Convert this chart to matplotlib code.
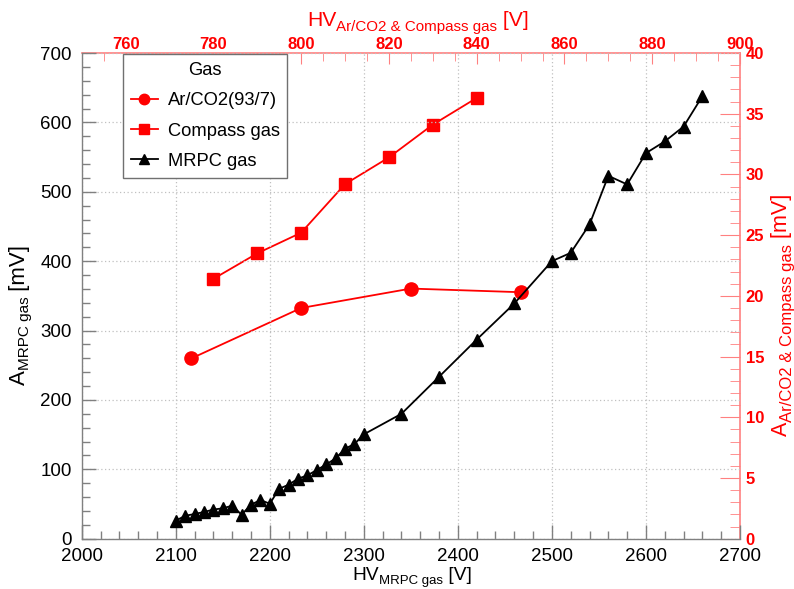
import matplotlib
matplotlib.use("Agg")
import matplotlib.pyplot as plt
from matplotlib.ticker import MultipleLocator
from matplotlib.transforms import IdentityTransform

plt.rcParams['font.family'] = ['Liberation Sans', 'DejaVu Sans']

# MRPC gas scan (bottom / left axes)
hv_mrpc = [2100, 2110, 2120, 2130, 2140, 2150, 2160, 2170, 2180, 2190,
           2200, 2210, 2220, 2230, 2240, 2250, 2260, 2270, 2280, 2290,
           2300, 2340, 2380, 2420, 2460, 2500, 2520, 2540, 2560, 2580,
           2600, 2620, 2640, 2660]
amp_mrpc = [26, 33, 35.6, 38.5, 42, 43.8, 47.6, 34.6, 49, 55.8,
            50.4, 72, 77.8, 86.5, 91.3, 99, 107, 115.8, 129.7, 136.5,
            150.4, 180, 233.4, 287, 339, 400, 412, 453, 523, 510.6,
            555.7, 572.6, 594, 637.8]

# Ar/CO2 (93/7) and Compass gas scans (top / right axes)
hv_arco2 = [775, 800, 825, 850]
amp_arco2 = [14.85, 19.0, 20.6, 20.3]

hv_compass = [780, 790, 800, 810, 820, 830, 840]
amp_compass = [21.4, 23.5, 25.2, 29.2, 31.4, 34.1, 36.3]

legend_title = "Gas"
series_labels = ["Ar/CO2(93/7)", "Compass gas", "MRPC gas"]

RED = '#ff0000'
PINK = '#ff8080'
FRAME = '#808080'

W_PX, H_PX = 794, 589
fig = plt.figure(figsize=(W_PX / 100, H_PX / 100), dpi=100)
rect = [0.1029, 0.0854, 0.8291, 0.8246]

ax = fig.add_axes(rect)
ax2 = fig.add_axes(rect, label='secondary')
ax.set_zorder(2)
ax.patch.set_visible(False)
ax2.set_zorder(1)

# primary axes: MRPC gas
ax.set_xlim(2000, 2700)
ax.set_ylim(0, 700)
ax.xaxis.set_major_locator(MultipleLocator(100))
ax.xaxis.set_minor_locator(MultipleLocator(20))
ax.yaxis.set_major_locator(MultipleLocator(100))
ax.yaxis.set_minor_locator(MultipleLocator(20))
ax.tick_params(which='both', direction='in', color=FRAME, labelcolor='black',
               top=False, right=False, labelsize=13.5)
ax.tick_params(which='major', length=10, width=1)
ax.tick_params(which='minor', length=5.5, width=1)
ax.tick_params(axis='x', pad=6.5)
ax.tick_params(axis='y', pad=7)
for s in ('top', 'right'):
    ax.spines[s].set_visible(False)
for s in ('left', 'bottom'):
    ax.spines[s].set_color(FRAME)
    ax.spines[s].set_linewidth(1)
ax.grid(True, which='major', color='#c0c0c0', linestyle=(0, (1, 2)), linewidth=0.9)
ax.set_axisbelow(True)

l_mrpc, = ax.plot(hv_mrpc, amp_mrpc, color='black', lw=1.3, marker='^',
                  ms=9, mfc='black', mec='black', zorder=3)

# secondary axes: Ar/CO2 and Compass gas
ax2.set_xlim(750, 900)
ax2.set_ylim(0, 40)
ax2.xaxis.tick_top()
ax2.yaxis.tick_right()
ax2.xaxis.set_major_locator(MultipleLocator(20))
ax2.xaxis.set_minor_locator(MultipleLocator(5))
ax2.yaxis.set_major_locator(MultipleLocator(5))
ax2.yaxis.set_minor_locator(MultipleLocator(1))
ax2.tick_params(which='both', direction='in', color=PINK, labelcolor=RED,
                bottom=False, left=False, labelsize=12)
ax2.tick_params(axis='x', which='major', length=8, pad=1)
ax2.tick_params(axis='x', which='minor', length=5.5)
ax2.tick_params(axis='y', which='major', length=14.4, pad=4)
ax2.tick_params(axis='y', which='minor', length=7.2)
for lab in ax2.get_xticklabels() + ax2.get_yticklabels():
    lab.set_fontweight('bold')
for s in ('left', 'bottom'):
    ax2.spines[s].set_visible(False)
for s in ('top', 'right'):
    ax2.spines[s].set_color(PINK)
    ax2.spines[s].set_linewidth(1.2)

l_ar, = ax2.plot(hv_arco2, amp_arco2, color=RED, lw=1.3, marker='o', ms=9.5,
                 mfc=RED, mec=RED)
l_cp, = ax2.plot(hv_compass, amp_compass, color=RED, lw=1.3, marker='s', ms=8.5,
                 mfc=RED, mec=RED)

leg = ax.legend([l_ar, l_cp, l_mrpc], series_labels, title=legend_title,
                loc='upper left', bbox_to_anchor=(0.0623, 0.0, 0.25, 0.998),
                mode='expand', borderaxespad=0, fontsize=13.2,
                title_fontsize=13.2, handlelength=1.45, handletextpad=0.55,
                labelspacing=0.72, borderpad=0.45, fancybox=False,
                framealpha=1, edgecolor='#707070')
leg.get_frame().set_linewidth(1)
for h in leg.legend_handles:
    h.set_markersize(7.5)

renderer = fig.canvas.get_renderer()


def sub_title(cx, cy, main, sub, tail, size, sub_size, drop, color='black',
              vertical=False):
    """Axis title with a lowered subscript, centred at pixel (cx, cy) from top-left.

    For horizontal titles cy is the baseline; for vertical titles cx is the baseline.
    """
    parts = [(main, size, 0), (sub, sub_size, drop), (tail, size, 0)]
    widths = []
    for txt, fs, _ in parts:
        t = fig.text(0, 0, txt, fontsize=fs, transform=IdentityTransform())
        widths.append(t.get_window_extent(renderer).width)
        t.remove()
    total = sum(widths)
    offset = 0.0
    for (txt, fs, d), w in zip(parts, widths):
        if vertical:
            # text runs upward; the subscript is lowered towards +x
            y = H_PX - (cy + total / 2) + offset
            fig.text(cx + d, y, txt, fontsize=fs, color=color, rotation=90,
                     rotation_mode='anchor', ha='left', va='baseline',
                     transform=IdentityTransform())
        else:
            fig.text(cx - total / 2 + offset, H_PX - cy - d, txt, fontsize=fs,
                     color=color, ha='left', va='baseline',
                     transform=IdentityTransform())
        offset += w


sub_title(412, 580, 'HV', 'MRPC gas', ' [V]', 13.8, 9.5, 4.3)
sub_title(418, 26, 'HV', 'Ar/CO2 & Compass gas', ' [V]', 15.2, 10.9, 5, color=RED)
sub_title(25, 315, 'A', 'MRPC gas', ' [mV]', 16, 11, 4.5, vertical=True)
sub_title(787, 315, 'A', 'Ar/CO2 & Compass gas', ' [mV]', 15.5, 12, 5,
          color=RED, vertical=True)

fig.savefig('out.png', dpi=100, facecolor='white')
